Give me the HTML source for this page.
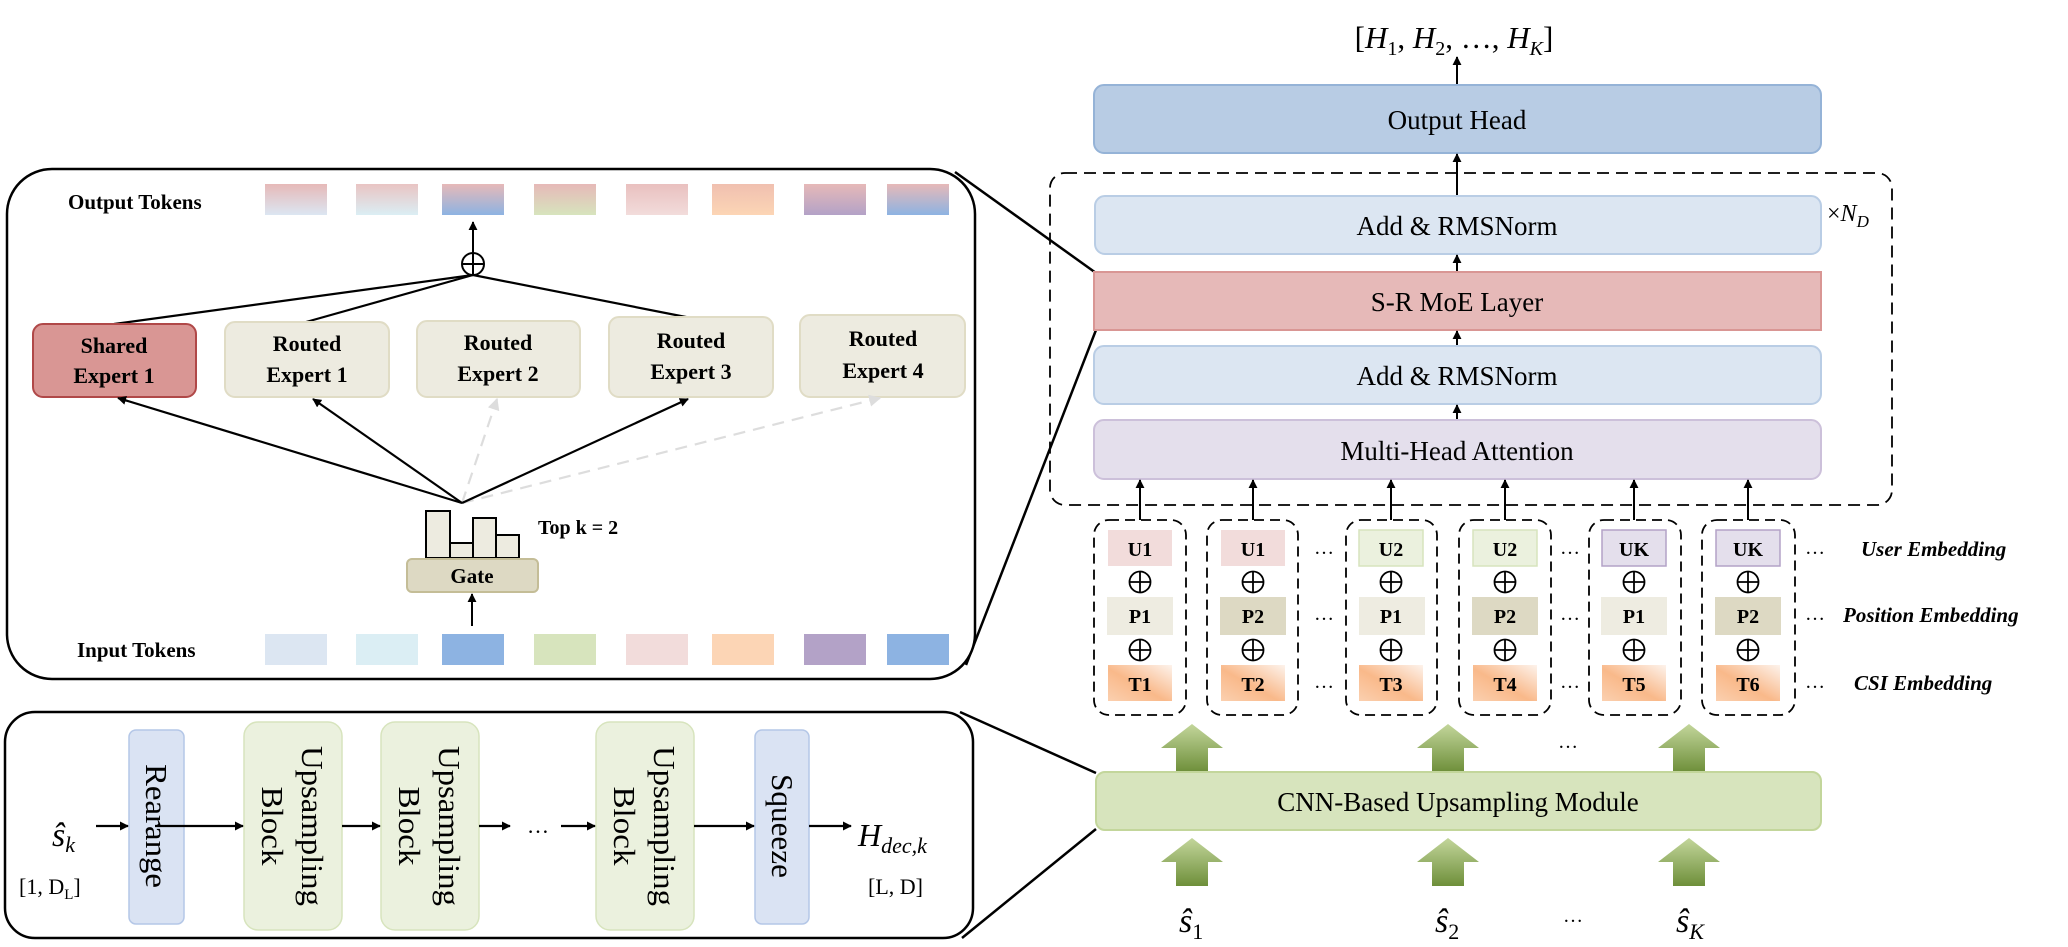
<!DOCTYPE html>
<html><head><meta charset="utf-8"><style>
html,body{margin:0;padding:0;background:#fff}
svg{display:block}
text{font-family:"Liberation Serif",serif;fill:#000}
.b{font-weight:bold}
</style></head><body>
<svg width="2068" height="947" viewBox="0 0 2068 947" xmlns="http://www.w3.org/2000/svg">
<defs>
<marker id="ah" viewBox="0 0 10 10" refX="9" refY="5" markerWidth="9" markerHeight="9" markerUnits="userSpaceOnUse" orient="auto"><path d="M0,0L10,5L0,10z" fill="#000"/></marker>
<marker id="ahg" viewBox="0 0 10 10" refX="9" refY="5" markerWidth="12" markerHeight="12" markerUnits="userSpaceOnUse" orient="auto"><path d="M0,0L10,5L0,10z" fill="#ddd"/></marker>
<linearGradient id="tg" x1="0" y1="1" x2="1" y2="0"><stop offset="0" stop-color="#fbd0b0"/><stop offset="0.45" stop-color="#f9b98a"/><stop offset="1" stop-color="#fdf3ec"/></linearGradient>
<linearGradient id="ga" x1="0" y1="0" x2="0" y2="1"><stop offset="0" stop-color="#c3d69b"/><stop offset="1" stop-color="#6e8f3a"/></linearGradient>
<linearGradient id="o1" x1="0" y1="0" x2="0" y2="1"><stop offset="0" stop-color="#e6b9b8"/><stop offset="1" stop-color="#dce6f2"/></linearGradient>
<linearGradient id="o2" x1="0" y1="0" x2="0" y2="1"><stop offset="0" stop-color="#e9c4c3"/><stop offset="1" stop-color="#dbeef4"/></linearGradient>
<linearGradient id="o3" x1="0" y1="0" x2="0" y2="1"><stop offset="0" stop-color="#e6b9b8"/><stop offset="1" stop-color="#8db3e2"/></linearGradient>
<linearGradient id="o4" x1="0" y1="0" x2="0" y2="1"><stop offset="0" stop-color="#e6b9b8"/><stop offset="1" stop-color="#d7e4bd"/></linearGradient>
<linearGradient id="o5" x1="0" y1="0" x2="0" y2="1"><stop offset="0" stop-color="#e9c0bf"/><stop offset="1" stop-color="#f2dcdb"/></linearGradient>
<linearGradient id="o6" x1="0" y1="0" x2="0" y2="1"><stop offset="0" stop-color="#f0c0b0"/><stop offset="1" stop-color="#fcd5b5"/></linearGradient>
<linearGradient id="o7" x1="0" y1="0" x2="0" y2="1"><stop offset="0" stop-color="#e6b9b8"/><stop offset="1" stop-color="#b3a2c7"/></linearGradient>
<linearGradient id="o8" x1="0" y1="0" x2="0" y2="1"><stop offset="0" stop-color="#e6b9b8"/><stop offset="1" stop-color="#8db3e2"/></linearGradient>
<g id="op"><circle cx="0" cy="0" r="10.5"/><line x1="-10.5" y1="0" x2="10.5" y2="0"/><line x1="0" y1="-10.5" x2="0" y2="10.5"/></g>
</defs>

<!-- connecting lines -->
<g stroke="#000" stroke-width="2.5" fill="none">
<line x1="955" y1="172" x2="1096" y2="273"/>
<line x1="966" y1="665" x2="1096" y2="330"/>
<line x1="960" y1="712" x2="1096" y2="773"/>
<line x1="962" y1="938" x2="1096" y2="829"/>
</g>

<!-- top-left panel -->
<rect x="7" y="169" width="968" height="510" rx="45" fill="#fff" stroke="#000" stroke-width="2.5"/>
<text x="68" y="209" class="b" font-size="21">Output Tokens</text>
<text x="77" y="657" class="b" font-size="21">Input Tokens</text>
<g>
<rect x="265" y="184" width="62" height="31" fill="url(#o1)"/>
<rect x="356" y="184" width="62" height="31" fill="url(#o2)"/>
<rect x="442" y="184" width="62" height="31" fill="url(#o3)"/>
<rect x="534" y="184" width="62" height="31" fill="url(#o4)"/>
<rect x="626" y="184" width="62" height="31" fill="url(#o5)"/>
<rect x="712" y="184" width="62" height="31" fill="url(#o6)"/>
<rect x="804" y="184" width="62" height="31" fill="url(#o7)"/>
<rect x="887" y="184" width="62" height="31" fill="url(#o8)"/>
<rect x="265" y="634" width="62" height="31" fill="#dce6f2"/>
<rect x="356" y="634" width="62" height="31" fill="#dbeef4"/>
<rect x="442" y="634" width="62" height="31" fill="#8db3e2"/>
<rect x="534" y="634" width="62" height="31" fill="#d7e4bd"/>
<rect x="626" y="634" width="62" height="31" fill="#f2dcdb"/>
<rect x="712" y="634" width="62" height="31" fill="#fcd5b5"/>
<rect x="804" y="634" width="62" height="31" fill="#b3a2c7"/>
<rect x="887" y="634" width="62" height="31" fill="#8db3e2"/>
</g>
<circle cx="473" cy="264" r="11" fill="#fff" stroke="#000" stroke-width="2"/>
<line x1="462" y1="264" x2="484" y2="264" stroke="#000" stroke-width="2"/>
<line x1="473" y1="253" x2="473" y2="275" stroke="#000" stroke-width="2"/>
<line x1="473" y1="253" x2="473" y2="222" stroke="#000" stroke-width="2" marker-end="url(#ah)"/>
<g stroke="#000" stroke-width="2.2">
<line x1="473" y1="275" x2="114" y2="324"/>
<line x1="473" y1="275" x2="306" y2="322"/>
<line x1="473" y1="275" x2="691" y2="318"/>
</g>
<rect x="33" y="324" width="163" height="73" rx="10" fill="#d99694" stroke="#b04848" stroke-width="2"/>
<rect x="225" y="322" width="164" height="75" rx="10" fill="#edebe0" stroke="#e0dcc5" stroke-width="2"/>
<rect x="417" y="321" width="163" height="76" rx="10" fill="#edebe0" stroke="#e0dcc5" stroke-width="2"/>
<rect x="609" y="317" width="164" height="80" rx="10" fill="#edebe0" stroke="#e0dcc5" stroke-width="2"/>
<rect x="800" y="315" width="165" height="82" rx="10" fill="#edebe0" stroke="#e0dcc5" stroke-width="2"/>
<g class="b" font-size="22" text-anchor="middle">
<text x="114" y="353" class="b">Shared</text><text x="114" y="383" class="b">Expert 1</text>
<text x="307" y="351" class="b">Routed</text><text x="307" y="382" class="b">Expert 1</text>
<text x="498" y="350" class="b">Routed</text><text x="498" y="381" class="b">Expert 2</text>
<text x="691" y="348" class="b">Routed</text><text x="691" y="379" class="b">Expert 3</text>
<text x="883" y="346" class="b">Routed</text><text x="883" y="378" class="b">Expert 4</text>
</g>
<g stroke-width="2.2">
<line x1="462" y1="503" x2="497" y2="399" stroke="#ddd" stroke-dasharray="12,8" marker-end="url(#ahg)"/>
<line x1="462" y1="503" x2="880" y2="398" stroke="#ddd" stroke-dasharray="12,8" marker-end="url(#ahg)"/>
<line x1="462" y1="503" x2="118" y2="398" stroke="#000" marker-end="url(#ah)"/>
<line x1="462" y1="503" x2="313" y2="399" stroke="#000" marker-end="url(#ah)"/>
<line x1="462" y1="503" x2="688" y2="399" stroke="#000" marker-end="url(#ah)"/>
</g>
<g fill="#edebe0" stroke="#000" stroke-width="2">
<rect x="426" y="511" width="24" height="47"/>
<rect x="450" y="543" width="23" height="15"/>
<rect x="473" y="518" width="23" height="40"/>
<rect x="496" y="535" width="23" height="23"/>
</g>
<rect x="407" y="559" width="131" height="33" rx="5" fill="#ddd9c3" stroke="#c4bd97" stroke-width="2"/>
<text x="472" y="583" class="b" font-size="21" text-anchor="middle">Gate</text>
<text x="538" y="534" class="b" font-size="20">Top k = 2</text>
<line x1="472" y1="626" x2="472" y2="594" stroke="#000" stroke-width="2" marker-end="url(#ah)"/>

<!-- bottom-left panel -->
<rect x="5" y="712" width="968" height="226" rx="30" fill="#fff" stroke="#000" stroke-width="2.5"/>
<rect x="129" y="730" width="55" height="194" rx="7" fill="#dae3f3" stroke="#b4c7e7" stroke-width="1.5"/>
<rect x="755" y="730" width="54" height="194" rx="7" fill="#dae3f3" stroke="#b4c7e7" stroke-width="1.5"/>
<rect x="244" y="722" width="98" height="208" rx="14" fill="#ebf1de" stroke="#d7e4bd" stroke-width="1.5"/>
<rect x="381" y="722" width="98" height="208" rx="14" fill="#ebf1de" stroke="#d7e4bd" stroke-width="1.5"/>
<rect x="596" y="722" width="98" height="208" rx="14" fill="#ebf1de" stroke="#d7e4bd" stroke-width="1.5"/>
<g font-size="31">
<text transform="translate(146,826) rotate(90)" text-anchor="middle" textLength="124" lengthAdjust="spacingAndGlyphs">Rearange</text>
<text transform="translate(772,826) rotate(90)" text-anchor="middle" textLength="104" lengthAdjust="spacingAndGlyphs">Squeeze</text>
<text transform="translate(302,826) rotate(90)" text-anchor="middle" textLength="160" lengthAdjust="spacingAndGlyphs">Upsampling</text>
<text transform="translate(262,826) rotate(90)" text-anchor="middle" textLength="79" lengthAdjust="spacingAndGlyphs">Block</text>
<text transform="translate(439,826) rotate(90)" text-anchor="middle" textLength="160" lengthAdjust="spacingAndGlyphs">Upsampling</text>
<text transform="translate(399,826) rotate(90)" text-anchor="middle" textLength="79" lengthAdjust="spacingAndGlyphs">Block</text>
<text transform="translate(654,826) rotate(90)" text-anchor="middle" textLength="160" lengthAdjust="spacingAndGlyphs">Upsampling</text>
<text transform="translate(614,826) rotate(90)" text-anchor="middle" textLength="79" lengthAdjust="spacingAndGlyphs">Block</text>
</g>
<g stroke="#000" stroke-width="2.2">
<line x1="96" y1="826" x2="128" y2="826" marker-end="url(#ah)"/>
<line x1="155" y1="826" x2="243" y2="826" marker-end="url(#ah)"/>
<line x1="342" y1="826" x2="380" y2="826" marker-end="url(#ah)"/>
<line x1="479" y1="826" x2="510" y2="826" marker-end="url(#ah)"/>
<line x1="561" y1="826" x2="595" y2="826" marker-end="url(#ah)"/>
<line x1="694" y1="826" x2="754" y2="826" marker-end="url(#ah)"/>
<line x1="809" y1="826" x2="851" y2="826" marker-end="url(#ah)"/>
</g>
<text x="527" y="833" font-size="22">…</text>
<text x="52" y="846" font-size="34" font-style="italic">ŝ<tspan font-size="22" dy="6">k</tspan></text>
<text x="19" y="894" font-size="22">[1, D<tspan font-size="15" dy="5">L</tspan><tspan dy="-5">]</tspan></text>
<text x="858" y="846" font-size="32" font-style="italic">H<tspan font-size="22" dy="7">dec,k</tspan></text>
<text x="868" y="894" font-size="22">[L, D]</text>

<!-- right side -->
<text x="1454" y="48" font-size="31" text-anchor="middle">[<tspan font-style="italic">H</tspan><tspan font-size="20" dy="7">1</tspan><tspan dy="-7">, </tspan><tspan font-style="italic">H</tspan><tspan font-size="20" dy="7">2</tspan><tspan dy="-7">, …, </tspan><tspan font-style="italic">H</tspan><tspan font-size="20" dy="7" font-style="italic">K</tspan><tspan dy="-7">]</tspan></text>
<line x1="1457" y1="85" x2="1457" y2="57" stroke="#000" stroke-width="2" marker-end="url(#ah)"/>
<rect x="1094" y="85" width="727" height="68" rx="10" fill="#b8cce4" stroke="#95b3d7" stroke-width="2"/>
<text x="1457" y="129" font-size="27" text-anchor="middle">Output Head</text>
<rect x="1050" y="173" width="842" height="332" rx="15" fill="none" stroke="#000" stroke-width="1.8" stroke-dasharray="12,7"/>
<line x1="1457" y1="197" x2="1457" y2="154" stroke="#000" stroke-width="2" marker-end="url(#ah)"/>
<rect x="1095" y="196" width="726" height="58" rx="10" fill="#dce6f2" stroke="#b9cde5" stroke-width="2"/>
<text x="1457" y="235" font-size="27" text-anchor="middle">Add &amp; RMSNorm</text>
<text x="1827" y="221" font-size="24">×<tspan font-style="italic">N</tspan><tspan font-size="17" dy="6" font-style="italic">D</tspan></text>
<line x1="1457" y1="272" x2="1457" y2="255" stroke="#000" stroke-width="2" marker-end="url(#ah)"/>
<rect x="1094" y="272" width="727" height="58" fill="#e6b9b8" stroke="#d99694" stroke-width="2"/>
<text x="1457" y="311" font-size="27" text-anchor="middle">S-R MoE Layer</text>
<line x1="1457" y1="346" x2="1457" y2="331" stroke="#000" stroke-width="2" marker-end="url(#ah)"/>
<rect x="1094" y="346" width="727" height="58" rx="10" fill="#dce6f2" stroke="#b9cde5" stroke-width="2"/>
<text x="1457" y="385" font-size="27" text-anchor="middle">Add &amp; RMSNorm</text>
<line x1="1457" y1="420" x2="1457" y2="405" stroke="#000" stroke-width="2" marker-end="url(#ah)"/>
<rect x="1094" y="420" width="727" height="59" rx="10" fill="#e4dfec" stroke="#ccc0da" stroke-width="2"/>
<text x="1457" y="460" font-size="27" text-anchor="middle">Multi-Head Attention</text>

<g stroke="#000" stroke-width="2">
<line x1="1140" y1="520" x2="1140" y2="480" marker-end="url(#ah)"/>
<line x1="1253" y1="520" x2="1253" y2="480" marker-end="url(#ah)"/>
<line x1="1391" y1="520" x2="1391" y2="480" marker-end="url(#ah)"/>
<line x1="1505" y1="520" x2="1505" y2="480" marker-end="url(#ah)"/>
<line x1="1634" y1="520" x2="1634" y2="480" marker-end="url(#ah)"/>
<line x1="1748" y1="520" x2="1748" y2="480" marker-end="url(#ah)"/>
</g>

<g fill="none" stroke="#000" stroke-width="1.8" stroke-dasharray="10,6">
<rect x="1094" y="520" width="92" height="195" rx="15"/>
<rect x="1207" y="520" width="91" height="195" rx="15"/>
<rect x="1346" y="520" width="91" height="195" rx="15"/>
<rect x="1459" y="520" width="92" height="195" rx="15"/>
<rect x="1589" y="520" width="92" height="195" rx="15"/>
<rect x="1702" y="520" width="93" height="195" rx="15"/>
</g>
<g>
<rect x="1108" y="530" width="64" height="36" fill="#f2dcdb"/>
<rect x="1221" y="530" width="64" height="36" fill="#f2dcdb"/>
<rect x="1359" y="530" width="64" height="36" fill="#ebf1de" stroke="#d7e4bd" stroke-width="1.5"/>
<rect x="1473" y="530" width="64" height="36" fill="#ebf1de" stroke="#d7e4bd" stroke-width="1.5"/>
<rect x="1602" y="530" width="64" height="36" fill="#e4dfec" stroke="#b3a2c7" stroke-width="1.5"/>
<rect x="1716" y="530" width="64" height="36" fill="#e4dfec" stroke="#b3a2c7" stroke-width="1.5"/>
<rect x="1107" y="597" width="66" height="38" fill="#eeece1"/>
<rect x="1220" y="597" width="66" height="38" fill="#ddd9c3"/>
<rect x="1359" y="597" width="66" height="38" fill="#eeece1"/>
<rect x="1472" y="597" width="66" height="38" fill="#ddd9c3"/>
<rect x="1601" y="597" width="66" height="38" fill="#eeece1"/>
<rect x="1715" y="597" width="66" height="38" fill="#ddd9c3"/>
<rect x="1108" y="665" width="64" height="36" fill="url(#tg)"/>
<rect x="1221" y="665" width="64" height="36" fill="url(#tg)"/>
<rect x="1359" y="665" width="64" height="36" fill="url(#tg)"/>
<rect x="1473" y="665" width="64" height="36" fill="url(#tg)"/>
<rect x="1602" y="665" width="64" height="36" fill="url(#tg)"/>
<rect x="1716" y="665" width="64" height="36" fill="url(#tg)"/>
</g>
<g class="b" font-size="20" text-anchor="middle">
<text x="1140" y="556" class="b">U1</text><text x="1253" y="556" class="b">U1</text><text x="1391" y="556" class="b">U2</text><text x="1505" y="556" class="b">U2</text><text x="1634" y="556" class="b">UK</text><text x="1748" y="556" class="b">UK</text>
<text x="1140" y="623" class="b">P1</text><text x="1253" y="623" class="b">P2</text><text x="1391" y="623" class="b">P1</text><text x="1505" y="623" class="b">P2</text><text x="1634" y="623" class="b">P1</text><text x="1748" y="623" class="b">P2</text>
<text x="1140" y="691" class="b">T1</text><text x="1253" y="691" class="b">T2</text><text x="1391" y="691" class="b">T3</text><text x="1505" y="691" class="b">T4</text><text x="1634" y="691" class="b">T5</text><text x="1748" y="691" class="b">T6</text>
</g>
<g fill="none" stroke="#000" stroke-width="1.8">
<use href="#op" x="1140" y="582"/><use href="#op" x="1253" y="582"/><use href="#op" x="1391" y="582"/><use href="#op" x="1505" y="582"/><use href="#op" x="1634" y="582"/><use href="#op" x="1748" y="582"/>
<use href="#op" x="1140" y="650"/><use href="#op" x="1253" y="650"/><use href="#op" x="1391" y="650"/><use href="#op" x="1505" y="650"/><use href="#op" x="1634" y="650"/><use href="#op" x="1748" y="650"/>
</g>
<g font-size="20" text-anchor="middle">
<text x="1324" y="554">…</text><text x="1324" y="620">…</text><text x="1324" y="688">…</text>
<text x="1570" y="554">…</text><text x="1570" y="620">…</text><text x="1570" y="688">…</text>
<text x="1815" y="554">…</text><text x="1815" y="620">…</text><text x="1815" y="688">…</text>
</g>
<g class="b" font-size="21" font-style="italic">
<text x="1861" y="556" class="b">User Embedding</text>
<text x="1843" y="622" class="b">Position Embedding</text>
<text x="1854" y="690" class="b">CSI Embedding</text>
</g>

<g fill="url(#ga)">
<path d="M1176,772V748H1161L1192,724L1223,748H1208V772Z"/>
<path d="M1432,772V748H1417L1448,724L1479,748H1464V772Z"/>
<path d="M1673,772V748H1658L1689,724L1720,748H1705V772Z"/>
<path d="M1176,886V862H1161L1192,838L1223,862H1208V886Z"/>
<path d="M1432,886V862H1417L1448,838L1479,862H1464V886Z"/>
<path d="M1673,886V862H1658L1689,838L1720,862H1705V886Z"/>
</g>
<text x="1568" y="748" font-size="20" text-anchor="middle">…</text>
<rect x="1096" y="772" width="725" height="58" rx="9" fill="#d7e4bd" stroke="#c3d69b" stroke-width="2"/>
<text x="1458" y="811" font-size="27" text-anchor="middle">CNN-Based Upsampling Module</text>
<g font-size="34" font-style="italic">
<text x="1179" y="932">ŝ<tspan font-size="22" dy="7" font-style="normal">1</tspan></text>
<text x="1435" y="932">ŝ<tspan font-size="22" dy="7" font-style="normal">2</tspan></text>
<text x="1676" y="932">ŝ<tspan font-size="22" dy="7">K</tspan></text>
</g>
<text x="1573" y="922" font-size="20" text-anchor="middle">…</text>
</svg>
</body></html>
